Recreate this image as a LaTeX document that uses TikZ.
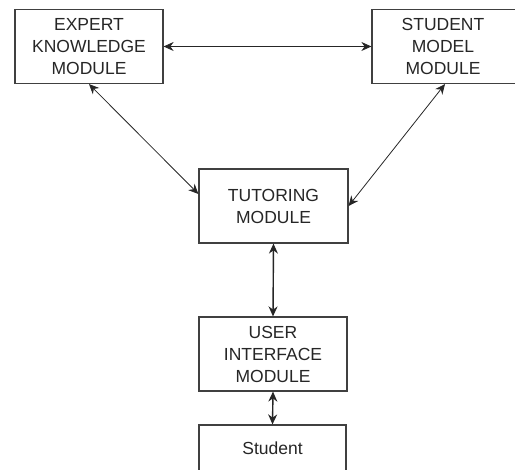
\documentclass[tikz,border=0pt]{standalone}
\usepackage{fontspec}
\setmainfont{Liberation Sans}
\usetikzlibrary{arrows.meta}
\begin{document}
\begin{tikzpicture}[x=1pt,y=1pt,
    modbox/.style={draw=black!75,line width=1.2pt,align=center,inner sep=0pt,
      text=black!85,font=\fontsize{17.5}{22}\selectfont},
    link/.style={{Stealth[length=10pt,width=9pt]}-{Stealth[length=10pt,width=9pt]},line width=0.8pt,black!85},
    vlink/.style={link,line width=1.4pt}]
  \useasboundingbox (0,0) rectangle (515,470);

  % Modules
  \node[modbox,minimum width=148,minimum height=74] (expert) at (89,423.5)
    {EXPERT\\KNOWLEDGE\\MODULE};
  \node[modbox,minimum width=160,minimum height=74] (smodel) at (452,423.5) {};
  \node[text=black!85,font=\fontsize{17.5}{22}\selectfont,align=center] (smtext) at (443,423.5)
    {STUDENT\\MODEL\\MODULE};
  \node[modbox,minimum width=149,minimum height=74] (tutor) at (273.5,264)
    {TUTORING\\MODULE};
  \node[modbox,minimum width=148,minimum height=74] (ui) at (273,116)
    {USER\\INTERFACE\\MODULE};
  \node[modbox,minimum width=147,minimum height=60] (student) at (272.5,15) {};
  \node[text=black!85,font=\fontsize{17.5}{22}\selectfont] (sttext) at (272.5,22) {Student};

  % Links
  \draw[link] (expert.east) -- (smodel.west);
  \draw[link] (expert.south) -- ([yshift=12pt]tutor.west);
  \draw[link] ([xshift=-7pt]smodel.south) -- (tutor.east);
  \draw[vlink] (tutor.south) -- (ui.north);
  \draw[vlink] (ui.south) -- (student.north);
\end{tikzpicture}
\end{document}
